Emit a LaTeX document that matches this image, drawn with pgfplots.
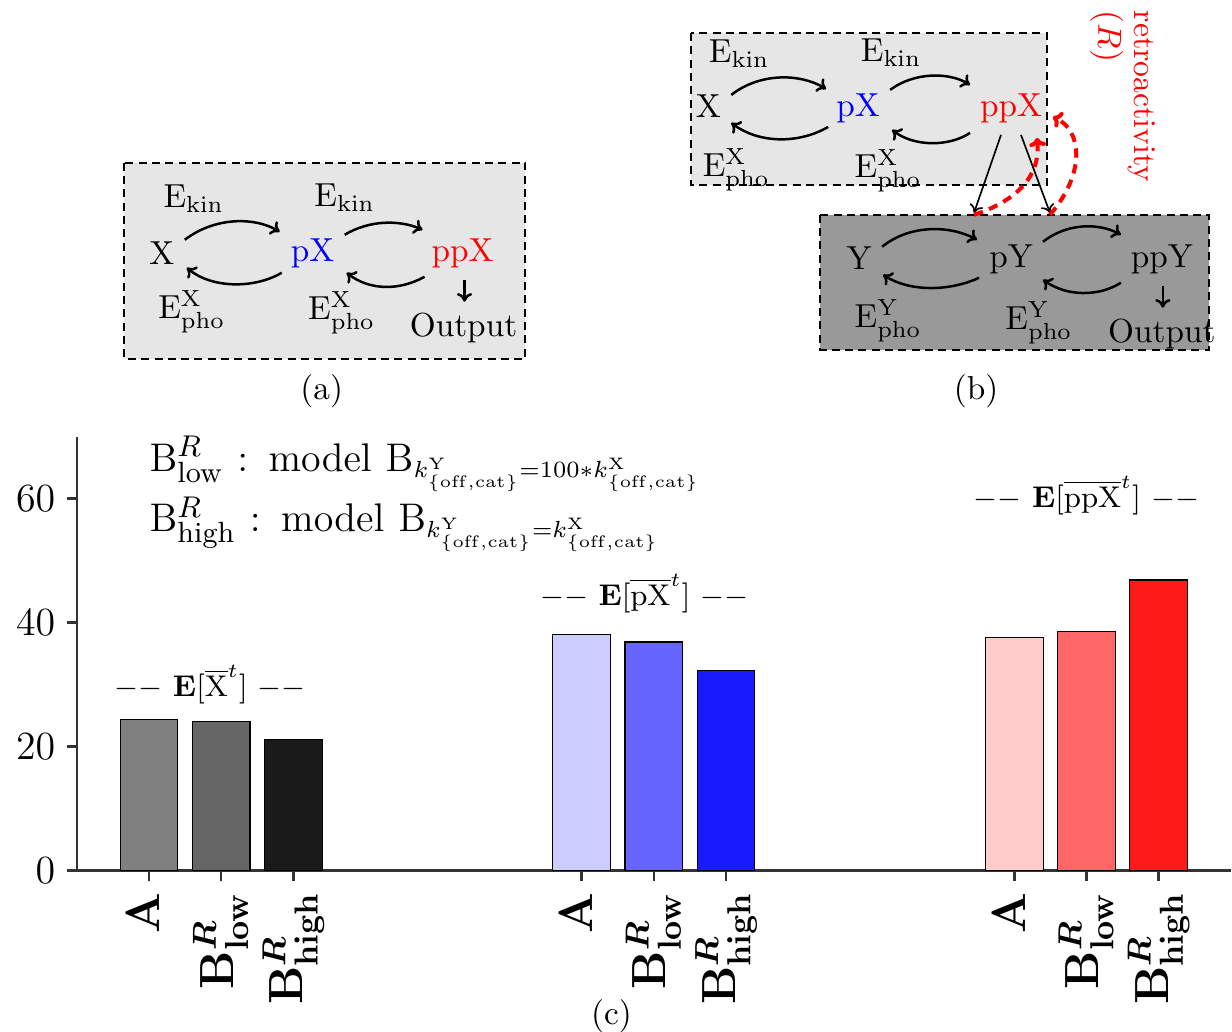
\documentclass[border=0pt]{standalone}
\usepackage{pgfplots}
\pgfplotsset{compat=1.18}
\usetikzlibrary{arrows.meta}

\DeclareMathSizes{12.8}{12.8}{7.5}{5.4}

\definecolor{gA}{HTML}{808080}
\definecolor{gL}{HTML}{666666}
\definecolor{gH}{HTML}{1A1A1A}
\definecolor{bA}{HTML}{CCCCFF}
\definecolor{bL}{HTML}{6666FF}
\definecolor{bH}{HTML}{1A1AFF}
\definecolor{rA}{HTML}{FFCCCC}
\definecolor{rL}{HTML}{FF6666}
\definecolor{rH}{HTML}{FF1A1A}
\definecolor{boxlight}{HTML}{E6E6E6}
\definecolor{boxdark}{HTML}{999999}
\definecolor{axisgray}{HTML}{333333}

\newcommand{\Ek}{$\mathrm{E}_{\mathrm{kin}}$}
\newcommand{\Ep}[1]{$\mathrm{E}^{\mathrm{#1}}_{\mathrm{pho}}$}
% indices of the model names in the key, a little larger than the script size
\newcommand{\ix}[1]{\hbox{\fontsize{8.8}{10}\selectfont #1}}

\begin{document}
\begin{tikzpicture}
\begin{scope}[x=0.3pt,y=-0.3pt,
  arr/.style={-{To[length=2.6pt,width=4.6pt]}, line width=0.75pt},
  dbox/.style={draw=black, line width=0.6pt, dash pattern=on 2.4pt off 1.6pt},
  lab/.style={anchor=base, inner sep=0pt}]
\useasboundingbox (0,0) rectangle (1232,1033);

% ---- (a) single cascade ----
\draw[dbox, fill=boxlight] (124,163) rectangle (526,359);
\node[lab] at (162,265) {X};
\node[lab, text=blue] at (313,262) {pX};
\node[lab, text=red] at (463,262) {ppX};
\node[lab] at (194,208) {\Ek};
\node[lab] at (345,207) {\Ek};
\node[lab] at (192,319) {\Ep{X}};
\node[lab] at (342,320) {\Ep{X}};
\node[lab] at (464,337) {Output};
\draw[arr] (465,280) -- (465,302);
\draw[arr] (185,240) .. controls (215,217) and (255,217) .. (280,232);
\draw[arr] (282,273) .. controls (255,289) and (212,289) .. (187,268);
\draw[arr] (345,235) .. controls (370,220) and (400,220) .. (423,230);
\draw[arr] (425,277) .. controls (400,291) and (370,291) .. (347,273);
\node at (322,392) {(a)};

% ---- (b) cascade with downstream load ----
\draw[dbox, fill=boxlight] (692,33) rectangle (1048,185);
\draw[dbox, fill=boxdark] (821,215) rectangle (1210,350);
\node[lab] at (709,118) {X};
\node[lab, text=blue] at (859,117) {pX};
\node[lab, text=red] at (1012,117) {ppX};
\node[lab] at (740,63) {\Ek};
\node[lab] at (892,62) {\Ek};
\node[lab] at (737,177) {\Ep{X}};
\node[lab] at (889,178) {\Ep{X}};
\draw[arr] (732,95) .. controls (760,73) and (800,73) .. (827,89);
\draw[arr] (829,127) .. controls (800,144) and (760,144) .. (732,123);
\draw[arr] (891,90) .. controls (915,72) and (950,72) .. (971,85);
\draw[arr] (971,133) .. controls (950,147) and (915,147) .. (893,130);

\node[lab] at (860,270) {Y};
\node[lab] at (1012,268) {pY};
\node[lab] at (1163,268) {ppY};
\node[lab] at (889,328) {\Ep{Y}};
\node[lab] at (1040,330) {\Ep{Y}};
\node[lab] at (1163,343) {Output};
\draw[arr] (1164,286) -- (1164,308);
\draw[arr] (883,247) .. controls (910,225) and (950,225) .. (978,240);
\draw[arr] (980,278) .. controls (950,292) and (910,292) .. (884,275);
\draw[arr] (1044,242) .. controls (1068,223) and (1100,223) .. (1122,235);
\draw[arr] (1122,283) .. controls (1100,297) and (1068,297) .. (1044,280);

\draw[-{To[length=2.4pt,width=4.2pt]}, line width=0.5pt] (1002,135) -- (975,213);
\draw[-{To[length=2.4pt,width=4.2pt]}, line width=0.5pt] (1022,135) -- (1051,213);
\draw[red, line width=1.2pt, dash pattern=on 2.8pt off 2pt, -{To[length=2.6pt,width=5pt]}]
  (975,215) .. controls (1015,202) and (1042,178) .. (1038,138);
\draw[red, line width=1.2pt, dash pattern=on 2.8pt off 2pt, -{To[length=2.6pt,width=5pt]}]
  (1051,215) .. controls (1088,172) and (1082,130) .. (1054,117);
\node[rotate=-90, anchor=north west, text=red, inner sep=0pt, font=\fontsize{9.5}{11}\selectfont]
  at (1157,10) {retroactivity};
\node[rotate=-90, anchor=north west, text=red, inner sep=0pt] at (1125,10) {$(R)$};
\node at (977,392) {(b)};

\node at (612,1017) {(c)};
\end{scope}

% ---- (c) mean levels of each species ----
\begin{axis}[
  at={(23.1pt,-261.45pt)}, anchor=south west,
  scale only axis, width=346.5pt, height=130.3pt,
  xmin=-1, xmax=15, ymin=0, ymax=70,
  axis lines=left,
  axis line style={-, draw=axisgray, line width=0.75pt},
  tick style={draw=axisgray, line width=0.75pt},
  tick align=outside, major tick length=3pt,
  ytick={0,20,40,60},
  yticklabel style={font=\fontsize{12.6}{15}\selectfont},
  xtick={0,1,2,6,7,8,12,13,14},
  xticklabels={
    \strut$\mathbf{A}$, \strut$\mathbf{B}^{R}_{\mathrm{low}}$, \strut$\mathbf{B}^{R}_{\mathrm{high}}$,
    \strut$\mathbf{A}$, \strut$\mathbf{B}^{R}_{\mathrm{low}}$, \strut$\mathbf{B}^{R}_{\mathrm{high}}$,
    \strut$\mathbf{A}$, \strut$\mathbf{B}^{R}_{\mathrm{low}}$, \strut$\mathbf{B}^{R}_{\mathrm{high}}$},
  xticklabel style={rotate=90, anchor=east, font=\fontsize{14}{16}\selectfont\boldmath},
  ybar, bar width=0.8, /pgf/bar shift=0pt,
  every axis plot/.append style={draw=black, line width=0.35pt},
  clip=false,
]
% X
\addplot[fill=gA] coordinates {(0,24.4)};
\addplot[fill=gL] coordinates {(1,24.0)};
\addplot[fill=gH] coordinates {(2,21.1)};
% pX
\addplot[fill=bA] coordinates {(6,38.1)};
\addplot[fill=bL] coordinates {(7,36.9)};
\addplot[fill=bH] coordinates {(8,32.3)};
% ppX
\addplot[fill=rA] coordinates {(12,37.6)};
\addplot[fill=rL] coordinates {(13,38.6)};
\addplot[fill=rH] coordinates {(14,46.9)};

\begin{scope}[every node/.style={anchor=base, font=\fontsize{9}{11}\selectfont}]
\node at (axis cs:0.85,28.1) {${-}{-}\ \mathbf{E}[\overline{\mathrm{X}}^{t}]\ {-}{-}$};
\node at (axis cs:6.87,42.8) {${-}{-}\ \mathbf{E}[\overline{\mathrm{pX}}^{t}]\ {-}{-}$};
\node at (axis cs:13.0,58.6) {${-}{-}\ \mathbf{E}[\overline{\mathrm{ppX}}^{t}]\ {-}{-}$};
\end{scope}

\node[anchor=base west, inner sep=0pt, font=\fontsize{12.8}{15}\selectfont] at (axis cs:0,64.4)
  {$\mathrm{B}^{\ix{$R$}}_{\ix{low}}\ {:}\ \,\mathrm{model}\ \mathrm{B}_{k^{\mathrm{Y}}_{\{\mathrm{off,cat}\}}=100*k^{\mathrm{X}}_{\{\mathrm{off,cat}\}}}$};
\node[anchor=base west, inner sep=0pt, font=\fontsize{12.8}{15}\selectfont] at (axis cs:0,54.7)
  {$\mathrm{B}^{\ix{$R$}}_{\ix{high}}\ {:}\ \,\mathrm{model}\ \mathrm{B}_{k^{\mathrm{Y}}_{\{\mathrm{off,cat}\}}=k^{\mathrm{X}}_{\{\mathrm{off,cat}\}}}$};
\end{axis}
\end{tikzpicture}
\end{document}
